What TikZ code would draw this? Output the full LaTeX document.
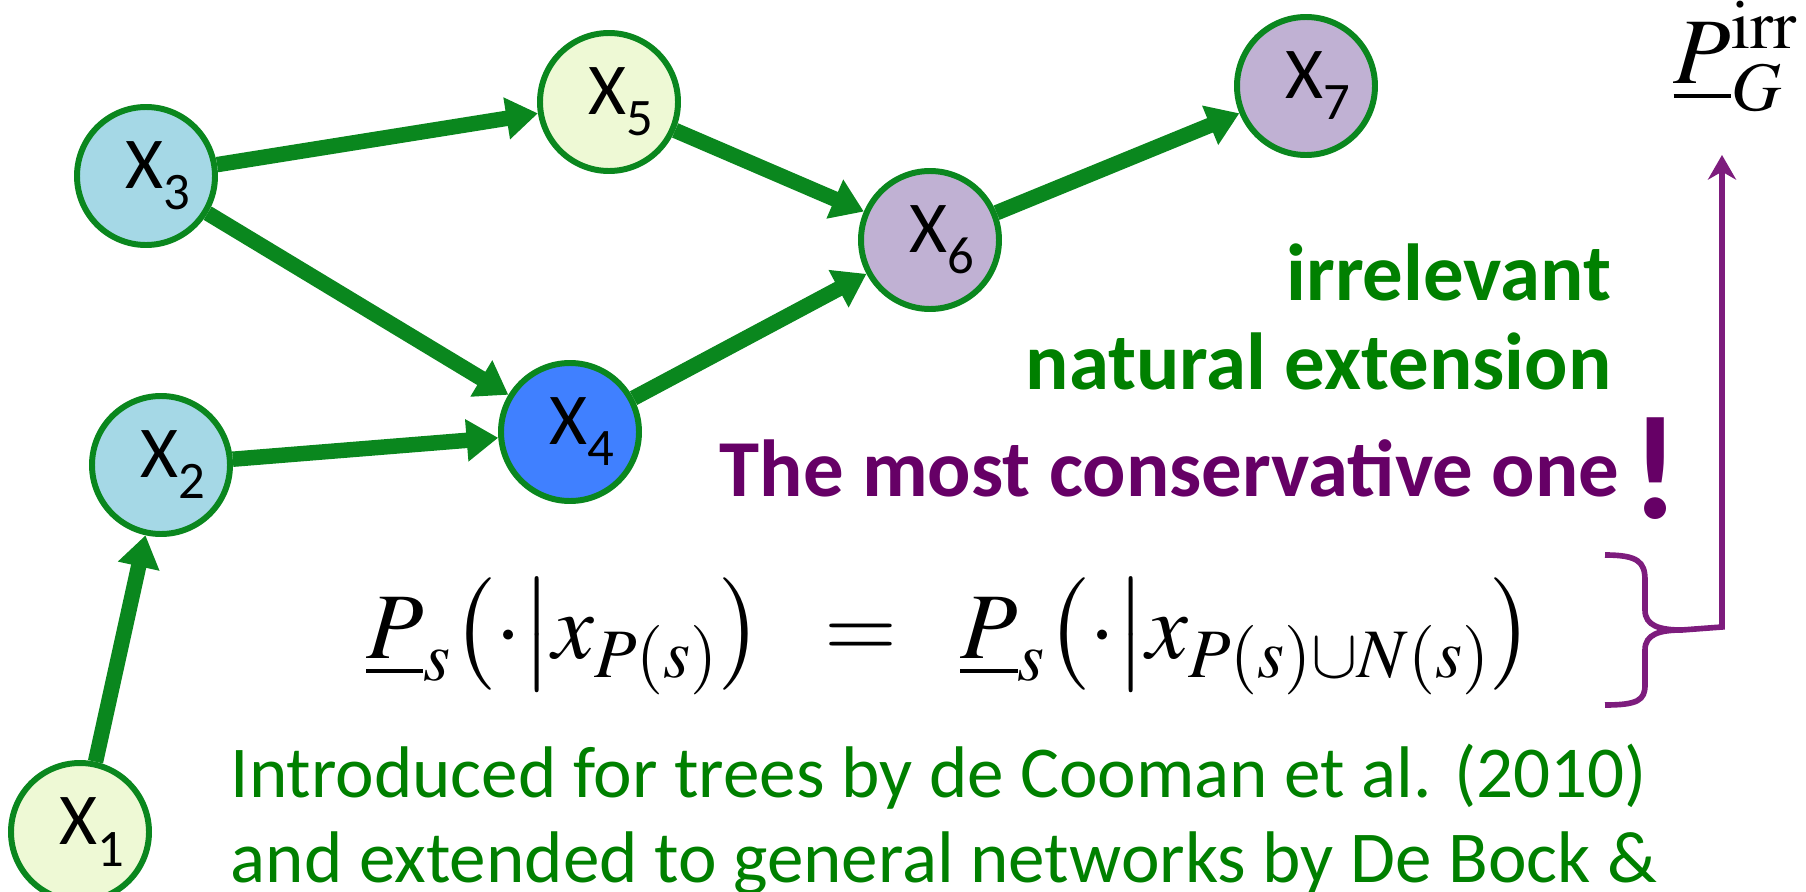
\documentclass[tikz,border=0pt]{standalone}
\usepackage{mathptmx}
\usepackage[no-math]{fontspec}
\setmainfont{Carlito}
\usetikzlibrary{arrows.meta}

\definecolor{edgegreen}{RGB}{10,135,30}
\definecolor{textgreen}{RGB}{0,128,0}
\definecolor{darkpurple}{RGB}{102,0,102}
\definecolor{bracepurple}{RGB}{125,28,125}
\definecolor{paleblue}{RGB}{165,216,230}
\definecolor{palelime}{RGB}{238,249,213}
\definecolor{lavender}{RGB}{192,177,211}
\definecolor{brightblue}{RGB}{64,128,255}

\newcommand{\xvar}[1]{\hspace*{2.4mm}X\raisebox{-6pt}{\fontsize{15}{15}\selectfont #1}}

\begin{document}
\begin{tikzpicture}[
  var/.style={draw=edgegreen, line width=1.7pt, circle, minimum size=1.38cm, inner sep=0pt, font=\fontsize{20.8}{25}\selectfont},
  edge/.style={draw=edgegreen, line width=4.4pt, -{Triangle[length=9pt,width=11.5pt]}},
  greenbold/.style={text=textgreen, inner sep=0pt, font=\fontsize{23}{27}\selectfont\bfseries},
  purplebold/.style={text=darkpurple, inner sep=0pt, font=\fontsize{23}{27}\selectfont\bfseries},
  greentext/.style={text=textgreen, inner sep=0pt, font=\fontsize{20.8}{25}\selectfont},
  brace/.style={draw=bracepurple, line width=1.6pt}]
\path[use as bounding box] (0,0) rectangle (18.06,-8.92);

\node[var, fill=paleblue] (x3) at (1.46,-1.76) {\xvar{3}};
\node[var, fill=palelime] (x5) at (6.09,-1.02) {\xvar{5}};
\node[var, fill=lavender] (x7) at (13.06,-0.86) {\xvar{7}};
\node[var, fill=lavender] (x6) at (9.30,-2.40) {\xvar{6}};
\node[var, fill=brightblue] (x4) at (5.70,-4.32) {\xvar{4}};
\node[var, fill=paleblue] (x2) at (1.61,-4.65) {\xvar{2}};
\node[var, fill=palelime] (x1) at (0.80,-8.32) {\xvar{1}};
\path[edge] (x3) -- (x5);
\path[edge] (x3) -- (x4);
\path[edge] (x5) -- (x6);
\path[edge] (x4) -- (x6);
\path[edge] (x6) -- (x7);
\path[edge] (x2) -- (x4);
\path[edge] (x1) -- (x2);

\node[greenbold, anchor=base east] (irrel) at (16.12,-3.00) {irrelevant};
\node[greenbold, anchor=base east] (natext) at (16.12,-3.89) {natural extension};
\node[purplebold, anchor=base east] (conserv) at (16.20,-4.96) {The most conservative one};
\node[purplebold, font=\fontsize{42}{44}\selectfont\bfseries, anchor=base] (bang) at (16.56,-5.18) {!};

\node[inner sep=0pt, anchor=base, font=\fontsize{26.7}{32}\selectfont] (eqn) at (9.50,-6.58)
  {$\underline{P}_s\bigl(\cdot\big|x_{P(s)}\bigr)\;\;=\;\;\underline{P}_s\bigl(\cdot\big|x_{P(s)\cup N(s)}\bigr)$};
\node[inner sep=0pt, anchor=base west, font=\fontsize{26.7}{32}\selectfont] (pirr) at (16.73,-0.83)
  {$\underline{P}_G^{\mathrm{irr}}$};

% brace and arrow up to the irrelevant natural extension
\coordinate (bracetip) at (16.82,-6.30);
\coordinate (irrtip) at (17.22,-1.55);
\draw[brace] (16.05,-5.55) .. controls (16.38,-5.55) and (16.45,-5.62) .. (16.45,-5.80)
  -- (16.45,-6.10) .. controls (16.45,-6.26) and (16.60,-6.30) .. (bracetip)
  .. controls (16.60,-6.30) and (16.45,-6.34) .. (16.45,-6.50)
  -- (16.45,-6.85) .. controls (16.45,-7.00) and (16.38,-7.05) .. (16.05,-7.05);
\draw[brace, -{Stealth[length=7pt,width=8pt]}] (bracetip) -- ++(0.40,0.03) -- (irrtip);

\node[greentext, anchor=base west] (intro1) at (2.30,-7.97) {Introduced for trees by de Cooman et al. (2010)};
\node[greentext, anchor=base west] (intro2) at (2.30,-8.82) {and extended to general networks by De Bock \&};
\end{tikzpicture}
\end{document}
